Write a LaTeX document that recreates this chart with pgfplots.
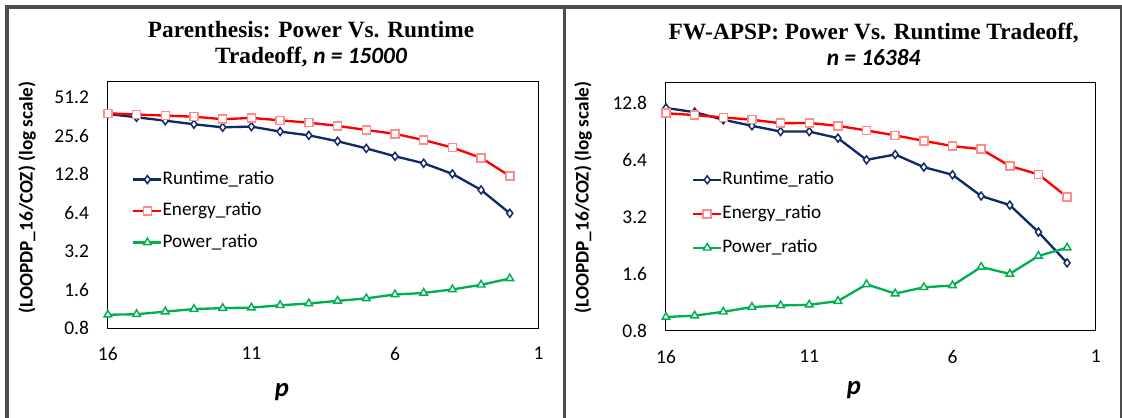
\documentclass[border=0pt]{standalone}
\usepackage{pgfplots}
\pgfplotsset{compat=1.18}
\usepackage{fontspec}
\setmainfont{Carlito}
\newfontfamily\titlefont{Liberation Serif}
\definecolor{navy}{RGB}{16,42,100}
\definecolor{ered}{RGB}{255,0,0}
\definecolor{epink}{RGB}{255,140,140}
\definecolor{pgreen}{RGB}{0,176,80}
\definecolor{framecol}{RGB}{77,77,77}
\pgfplotsset{
  rt/.style={navy, line width=1.75pt, mark=diamond*, mark size=3pt, mark options={fill=white, draw=navy, line width=1.1pt}},
  en/.style={ered, line width=1.75pt, mark=square*, mark size=3pt, mark options={fill=white, draw=epink, line width=1.1pt}},
  pw/.style={pgreen, line width=1.75pt, mark=triangle*, mark size=3.3pt, mark options={fill=white, draw=pgreen, line width=1.1pt}},
}
\begin{document}
\begin{tikzpicture}
\path[use as bounding box] (0,0) rectangle (841.5pt,313.5pt);
% frame
\draw[framecol, line width=3pt] (5.25pt,0pt) -- (5.25pt,308.6pt) -- (841.5pt,308.6pt);
\draw[framecol, line width=2.4pt] (423.4pt,0pt) -- (423.4pt,308.6pt);
\draw[framecol, line width=1.2pt] (840.9pt,0pt) -- (840.9pt,308.6pt);
% left axis
\begin{axis}[
  scale only axis,
  ymode=log, log basis y=2,
  x dir=reverse,
  xmin=1, xmax=16,
  xtick={16,11,6,1}, xticklabels={16,11,6,1},
  major tick length=0pt,
  axis line style={black, line width=0.75pt},
  clip=false,
  tick label style={font=\fontsize{14.6}{17}\selectfont, inner sep=0pt},
  yticklabel style={xshift=-14pt},
  xticklabel style={yshift=-14pt},
  legend cell align=left,
  legend style={draw=none, fill=none, inner sep=0pt, anchor=north west,
    font=\fontsize{14.4}{17}\selectfont,
    nodes={inner sep=0pt, text height=10pt, text depth=3pt},
    at={(0.056,0.64)}, row sep=10.6pt},
  legend image code/.code={\draw[mark repeat=2,mark phase=2,#1,line width=1.75pt] plot coordinates {(0pt,0pt) (10.5pt,0pt) (21pt,0pt)};},
  at={(80.9pt,67.3pt)}, anchor=south west,
  width=323pt, height=184.7pt,
  ymin=0.8, ymax=67.4,
  ytick={0.8,1.6,3.2,6.4,12.8,25.6,51.2},
  yticklabels={0.8,1.6,3.2,6.4,12.8,25.6,51.2},
]
\addplot[rt] coordinates {(16,37.9)(15,35.7)(14,33.6)(13,31.5)(12,29.8)(11,30.2)(10,27.6)(9,25.8)(8,23.2)(7,20.4)(6,17.7)(5,15.6)(4,12.9)(3,9.65)(2,6.34)};
\addlegendentry{Runtime\_ratio}
\addplot[en] coordinates {(16,38.4)(15,37.5)(14,36.8)(13,36.1)(12,34.5)(11,35.3)(10,33.8)(9,32.4)(8,30.6)(7,28.4)(6,26.5)(5,23.7)(4,20.7)(3,17.2)(2,12.4)};
\addlegendentry{Energy\_ratio}
\addplot[pw] coordinates {(16,1.02)(15,1.03)(14,1.08)(13,1.13)(12,1.15)(11,1.16)(10,1.21)(9,1.25)(8,1.31)(7,1.37)(6,1.47)(5,1.51)(4,1.61)(3,1.75)(2,1.96)};
\addlegendentry{Power\_ratio}
\end{axis}
% right axis
\begin{axis}[
  scale only axis,
  ymode=log, log basis y=2,
  x dir=reverse,
  xmin=1, xmax=16,
  xtick={16,11,6,1}, xticklabels={16,11,6,1},
  major tick length=0pt,
  axis line style={black, line width=0.75pt},
  clip=false,
  tick label style={font=\fontsize{14.6}{17}\selectfont, inner sep=0pt},
  yticklabel style={xshift=-14pt},
  xticklabel style={yshift=-14pt},
  legend cell align=left,
  legend style={draw=none, fill=none, inner sep=0pt, anchor=north west,
    font=\fontsize{14.4}{17}\selectfont,
    nodes={inner sep=0pt, text height=10pt, text depth=3pt},
    at={(0.06,0.645)}, row sep=12.5pt},
  legend image code/.code={\draw[mark repeat=2,mark phase=2,#1,line width=1.75pt] plot coordinates {(0pt,0pt) (10.5pt,0pt) (21pt,0pt)};},
  at={(499.5pt,65.25pt)}, anchor=south west,
  width=322.3pt, height=186.2pt,
  ymin=0.8, ymax=16.3,
  ytick={0.8,1.6,3.2,6.4,12.8},
  yticklabels={0.8,1.6,3.2,6.4,12.8},
]
\addplot[rt] coordinates {(16,12.0)(15,11.4)(14,10.4)(13,9.66)(12,9.01)(11,9.01)(10,8.32)(9,6.39)(8,6.82)(7,5.85)(6,5.33)(5,4.12)(4,3.69)(3,2.66)(2,1.83)};
\addlegendentry{Runtime\_ratio}
\addplot[en] coordinates {(16,11.26)(15,11.0)(14,10.7)(13,10.4)(12,9.97)(11,10.0)(10,9.66)(9,9.13)(8,8.6)(7,8.05)(6,7.55)(5,7.28)(4,5.93)(3,5.36)(2,4.07)};
\addlegendentry{Energy\_ratio}
\addplot[pw] coordinates {(16,0.948)(15,0.964)(14,1.01)(13,1.07)(12,1.09)(11,1.10)(10,1.15)(9,1.41)(8,1.26)(7,1.36)(6,1.39)(5,1.74)(4,1.60)(3,1.99)(2,2.20)};
\addlegendentry{Power\_ratio}
\end{axis}
% titles
\node[align=center, font=\titlefont\bfseries\fontsize{17.5}{19.5}\selectfont] at (233.3pt,280.5pt)
  {Parenthesis: Power Vs. Runtime\\Tradeoff, {\normalfont\rmfamily\bfseries\itshape n = 15000}};
\node[align=center, font=\titlefont\bfseries\fontsize{17.5}{19.5}\selectfont] at (655.2pt,280.5pt)
  {FW-APSP: Power Vs. Runtime Tradeoff,\\{\normalfont\rmfamily\bfseries\itshape n = 16384}};
% y labels
\node[rotate=90, font=\bfseries\fontsize{14.4}{17}\selectfont] at (20.3pt,165.4pt) {(LOOPDP\_16/COZ) (log scale)};
\node[rotate=90, font=\bfseries\fontsize{14.4}{17}\selectfont] at (437.3pt,165.4pt) {(LOOPDP\_16/COZ) (log scale)};
% x labels
\node[font=\bfseries\itshape\fontsize{20}{24}\selectfont] at (211.5pt,19.5pt) {p};
\node[font=\bfseries\itshape\fontsize{20}{24}\selectfont] at (640.5pt,21pt) {p};
\end{tikzpicture}
\end{document}
